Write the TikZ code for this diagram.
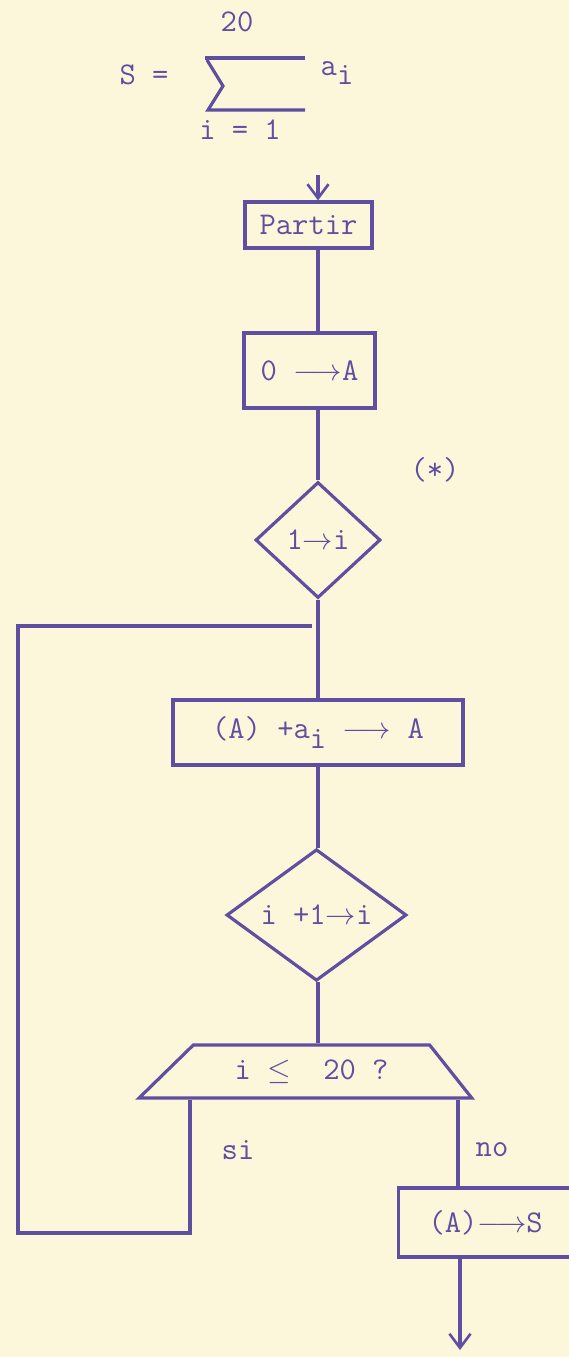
\documentclass[tikz,border=0pt]{standalone}
\usepackage{fontspec}
\usetikzlibrary{positioning, arrows.meta, shapes.geometric, calc}
\definecolor{inkViolet}{RGB}{96, 78, 160}
\definecolor{paperCream}{RGB}{252, 247, 218}

\begin{document}
\begin{tikzpicture}[
    font=\ttfamily\fontsize{18}{20}\selectfont,
    color=inkViolet,
    >={Straight Barb[length=8pt, width=12pt, line width=1.5pt]},
    box/.style={
        draw=inkViolet,
        rectangle,
        line width=1.8pt,
        inner sep=0pt,
        align=center
    },
    decision/.style={
        draw=inkViolet,
        diamond,
        line width=1.8pt,
        inner sep=0pt
    },
    testbox/.style={
        draw=inkViolet,
        trapezium,
        trapezium left angle=34,
        trapezium right angle=41,
        trapezium stretches=true,
        line width=1.8pt,
        inner sep=0pt
    },
    flow/.style={
        draw=inkViolet,
        line width=1.8pt
    },
    note/.style={
        text=inkViolet,
        inner sep=1pt
    }
]

% ================= PAPER =================
\fill[paperCream] (0,0) rectangle (11.38,-27.14);
\useasboundingbox (0,0) rectangle (11.38,-27.14);
\clip (0,0) rectangle (11.38,-27.14);

% ================= FORMULA =================
\node[note] (upper) at (4.74,-0.44) {20};
\node[note] (lhs) at (2.88,-1.5) {S =};
\node[note] (term) at (6.74,-1.46) {a\raisebox{-0.6ex}{i}};
\node[note] (lower) at (4.8,-2.6) {i = 1};
\draw[flow] (4.1,-1.16) -- (6.1,-1.16);
\draw[flow] (4.14,-1.2) -- (4.46,-1.72) -- (4.16,-2.2) -- (6.1,-2.2);

% ================= MAIN FLOW =================
\coordinate (start) at (6.36,-3.5);
\node[box, minimum width=2.54cm, minimum height=0.92cm] (partir) at (6.17,-4.5) {Partir};
\node[box, minimum width=2.62cm, minimum height=1.5cm] (zero) at (6.19,-7.41) {0 $\longrightarrow$A};
\node[decision, minimum width=2.5cm, minimum height=2.32cm] (init) at (6.36,-10.8) {1$\rightarrow$i};
\node[note] (star) at (8.7,-9.4) {(*)};
\node[box, minimum width=5.8cm, minimum height=1.3cm] (accum) at (6.36,-14.65) {(A) +a\raisebox{-0.7ex}{i} $\longrightarrow$ A};
\node[decision, minimum width=3.6cm, minimum height=2.4cm] (incr) at (6.33,-18.3) {i +1$\rightarrow$i};
\node[testbox, minimum width=6.66cm, minimum height=1.06cm] (check) at (6.23,-21.43) {i $\leq$ \ 20 ?};
\node[box, anchor=west, minimum width=4.2cm, minimum height=1.38cm,
      inner xsep=0.56cm, text width=3cm, align=left] (store) at (7.94,-24.45) {(A)$\longrightarrow$S};

\draw[flow, ->] (start) -- (partir.north -| start);
\draw[flow] (partir.south -| start) -- (zero.north -| start);
\draw[flow] (zero.south -| start) -- (init.north);
\draw[flow] (init.south) -- (accum.north);
\draw[flow] (accum.south) -- (incr.north -| accum.south);
\draw[flow] (incr.south -| accum.south) -- (check.north -| accum.south);

% ================= BRANCHES =================
\coordinate (siX) at (3.8,0);
\coordinate (noX) at (9.16,0);
\coordinate (loopLow) at (0.36,-24.66);
\coordinate (loopTop) at (0.36,-12.52);
\coordinate (join) at (6.24,-12.52);
\coordinate (finish) at (9.2,-27.0);

\node[note] (yes) at (4.76,-23.0) {si};
\node[note] (nope) at (9.84,-23.0) {no};

\draw[flow] (check.south -| siX) -- (siX |- loopLow) -- (loopLow) -- (loopTop) -- (join);
\draw[flow] (check.south -| noX) -- (store.north -| noX);
\draw[flow, ->] (store.south -| finish) -- (finish);

\end{tikzpicture}
\end{document}
